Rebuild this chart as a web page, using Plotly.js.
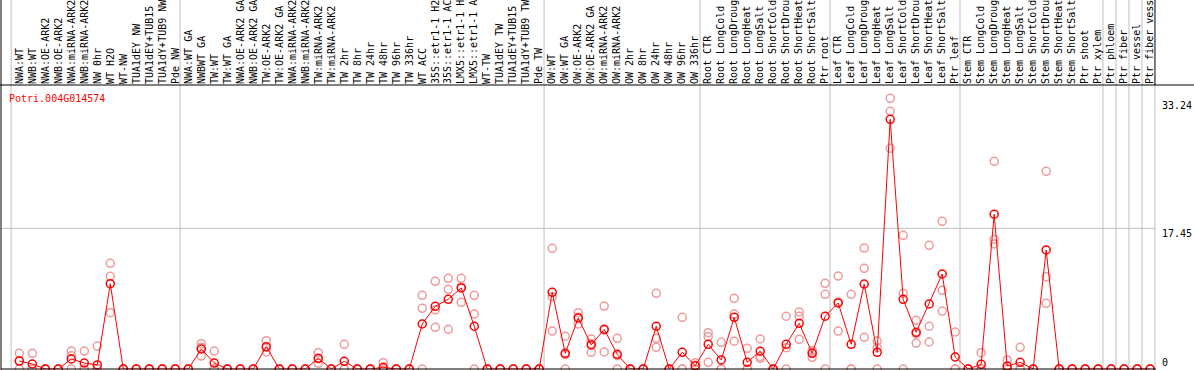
<!DOCTYPE html>
<html>
<head>
<meta charset="utf-8">
<script src="https://cdn.plot.ly/plotly-3.0.1.min.js"></script>
<style>
  html, body { margin: 0; padding: 0; background: #ffffff; }
  #chart { width: 1194px; height: 370px; }
</style>
</head>
<body>
<div id="chart"></div>
<script>
// ---------- data ----------
const geneId = "Potri.004G014574";

const categories = [
  "NWA:WT","NWB:WT","NWA:OE-ARK2","NWB:OE-ARK2","NWA:miRNA-ARK2","NWB:miRNA-ARK2","NW 0hr","WT H2O","WT-NW","TUA1dEY NW","TUA1dEY+TUB15","TUA1dY+TUB9 NW","Pde NW",
  "NWA:WT GA","NWBWT GA","TW:WT","TW:WT GA","NWA:OE-ARK2 GA","NWB:OE-ARK2 GA","TW:OE-ARK2","TW:OE-ARK2 GA","NWA:miRNA-ARK2","NWB:miRNA-ARK2","TW:miRNA-ARK2","TW:miRNA-ARK2","TW 2hr","TW 8hr","TW 24hr","TW 48hr","TW 96hr","TW 336hr","WT ACC","35S::etr1-1 H2","35S::etr1-1 AC","LMX5::etr1-1 H","LMX5::etr1-1 A","WT-TW","TUA1dEY TW","TUA1dEY+TUB15","TUA1dY+TUB9 TW","Pde TW",
  "OW:WT","OW:WT GA","OW:OE-ARK2","OW:OE-ARK2 GA","OW:miRNA-ARK2","OW:miRNA-ARK2","OW 2hr","OW 8hr","OW 24hr","OW 48hr","OW 96hr","OW 336hr",
  "Root CTR","Root LongCold","Root LongDroug","Root LongHeat","Root LongSalt","Root ShortCold","Root ShortDrou","Root ShortHeat","Root ShortSalt","Ptr root",
  "Leaf CTR","Leaf LongCold","Leaf LongDroug","Leaf LongHeat","Leaf LongSalt","Leaf ShortCold","Leaf ShortDrou","Leaf ShortHeat","Leaf ShortSalt","Ptr leaf",
  "Stem CTR","Stem LongCold","Stem LongDroug","Stem LongHeat","Stem LongSalt","Stem ShortCold","Stem ShortDrou","Stem ShortHeat","Stem ShortSalt","Ptr shoot","Ptr xylem",
  "Ptr phloem","Ptr fiber","Ptr vessel","Ptr fiber vess"
];

// number of samples in each labelled block (separated by grey lines)
const groupSizes = [13, 28, 12, 10, 10, 11, 1, 1, 1, 1];

const meanValues = [
  0.99, 0.62, 0, 0, 1.24, 0.74, 0.50, 10.58, 0, 0, 0, 0, 0,
  0, 2.48, 0.74, 0, 0, 0, 2.77, 0, 0, 0, 1.33, 0, 0.95, 0, 0, 0.21, 0, 0, 5.58, 7.78, 8.64, 10.05, 5.30, 0, 0, 0, 0, 0,
  9.51, 1.95, 6.33, 2.98, 4.92, 1.82, 0, 0, 5.30, 0, 2.07, 0.41,
  3.06, 1.12, 6.41, 0.83, 2.20, 0, 3.06, 5.67, 1.95, 6.54,
  8.19, 3.06, 10.54, 2.07, 30.97, 8.64, 4.55, 8.06, 11.78, 1.49,
  0, 0.58, 19.19, 0.37, 0.83, 0, 14.76, 0, 0, 0, 0,
  0, 0, 0, 0
];

const replicateValues = [
  [1.95,1.0,0],[1.95,0,0],[0,0,0],[0,0,0],[2.23,1.65,0],[2.23,0,0],[2.85,0,0],[13.1,11.5,6.98],[0,0,0],[0,0,0],[0,0,0],[0,0,0],[0,0,0],
  [0,0,0],[3.14,2.69,1.61],[2.23,0,0],[0,0,0],[0,0,0],[0,0,0],[3.51,2.69,2.11],[0,0,0],[0,0,0],[0,0,0],[2.02,1.26,0.71],[0,0,0],[3.06,0,0],[0,0,0],[0,0,0],[0.78,0,0],[0,0,0],[0,0,0],[9.14,7.53,0],[10.88,7.32,5.17],[11.25,9.88,4.92],[11.25,10.2,8.27],[9.14,6.82,0],[0,0,0],[0,0,0],[0,0,0],[0,0,0],[0,0,0],
  [14.97,8.97,4.71],[4.06,1.79,0],[6.98,6.43,5.58],[3.72,3.15,2.07],[7.81,4.85,2.11],[3.81,1.65,0],[0,0,0],[0,0,0],[9.39,3.81,2.69],[0,0,0],[6.41,0,0],[0.78,0.45,0],
  [4.5,4.01,0.83],[3.31,0,0],[8.77,6.82,3.44],[2.57,0,0],[3.72,1.55,1.33],[0,0,0],[6.54,2.64,0],[7.07,6.54,3.68],[2.3,2.07,1.45],[10.63,9.26,0],
  [11.53,8.3,4.71],[9.26,0,0],[15.0,12.49,3.93],[3.47,2.64,0],[33.57,31.96,27.37],[16.58,9.39,0],[6.04,4.4,3.22],[15.34,5.3,3.35],[18.32,9.76,7.19],[4.59,0,0],
  [0,0,0],[2.02,0,0],[25.76,16.09,15.5],[1.12,0,0],[2.69,0,0],[0,0,0],[24.52,11.45,8.15],[0,0,0],[0,0,0],[0,0,0],[0,0,0],
  [0,0,0],[0,0,0],[0,0,0],[0,0]
];

const yTickVals = [0, 17.45, 33.24];
const yTickText = ["0", "17.45", "33.24"];

// ---------- build ----------
const idx = categories.map((c, i) => i);
const repX = [], repY = [];
replicateValues.forEach((reps, i) => reps.forEach(v => { repX.push(i); repY.push(v); }));

const MONO = "DejaVu Sans Mono, Liberation Mono, monospace";
const GRID = "#c0c0c0";
const Y_MAX = 35.22;
const PLOT_H = 284;
// keep the bottom ("0") label inside the frame, as the original renderer does
const minLabelVal = Y_MAX * 12 / PLOT_H;
const yLabelPos = yTickVals.map(v => Math.max(v, minLabelVal));

// separator positions derived from group sizes
const breaks = [];
let acc = 0;
breaks.push(acc - 0.63);
groupSizes.forEach(n => { acc += n; breaks.push(acc - 0.63); });

const shapes = [];
// horizontal grid line at middle tick
shapes.push({type:"line", xref:"paper", yref:"y", x0:0, x1:1, y0:yTickVals[1], y1:yTickVals[1],
  line:{color:GRID, width:1}, layer:"below"});
breaks.forEach((b, k) => {
  shapes.push({type:"line", xref:"x", yref:"paper", x0:b, x1:b, y0:0, y1:(k === breaks.length-1 ? 1 : 1.31),
    line:{color:GRID, width:1}, layer:"below"});
});
// frame lines
shapes.push({type:"line", xref:"paper", yref:"paper", x0:-0.01, x1:1.05, y0:1, y1:1, line:{color:"#000", width:1}});
shapes.push({type:"line", xref:"paper", yref:"paper", x0:0, x1:0, y0:-0.01, y1:1.31, line:{color:"#000", width:1}});
shapes.push({type:"line", xref:"paper", yref:"paper", x0:0, x1:1, y0:0, y1:0, line:{color:"#000", width:1}});
shapes.push({type:"line", xref:"x", yref:"paper", x0:breaks[breaks.length-1], x1:breaks[breaks.length-1], y0:1, y1:1.31, line:{color:"#000", width:1}});

const traces = [
  {
    x: repX, y: repY, type: "scatter", mode: "markers", cliponaxis: false,
    marker: {symbol: "circle-open", size: 8, color: "#ee9a9a", line: {width: 1.5, color: "#ee9a9a"}},
    hoverinfo: "skip", showlegend: false
  },
  {
    x: idx, y: meanValues, type: "scatter", mode: "lines+markers", cliponaxis: false,
    line: {color: "#ff0000", width: 1},
    marker: {symbol: "circle-open", size: 8, color: "#ff0000", line: {width: 1.5, color: "#ff0000"}},
    showlegend: false
  }
];

const layout = {
  width: 1194, height: 370,
  margin: {l: 1, r: 38, t: 85, b: 1, pad: 0},
  paper_bgcolor: "#ffffff", plot_bgcolor: "rgba(0,0,0,0)",
  showlegend: false,
  xaxis: {
    range: [-1.408, 87.45], side: "top", tickmode: "array", tickvals: idx, ticktext: categories,
    tickangle: -90, tickfont: {family: MONO, size: 10, color: "#000"},
    showgrid: false, zeroline: false, showline: false, ticks: "", automargin: false, fixedrange: true
  },
  yaxis: {
    range: [0, Y_MAX], side: "right", tickmode: "array", tickvals: yLabelPos, ticktext: yTickText,
    tickfont: {family: MONO, size: 10, color: "#000"}, ticklabelshift: 5, ticklabelstandoff: 5,
    showgrid: false, zeroline: false, showline: false, ticks: "", automargin: false, fixedrange: true
  },
  shapes: shapes,
  annotations: [{
    text: geneId, xref: "paper", yref: "paper", x: 0.0048, y: 0.978, xanchor: "left", yanchor: "top",
    showarrow: false, font: {family: MONO, size: 10, color: "#ff0000"}
  }]
};

Plotly.newPlot("chart", traces, layout, {displayModeBar: false, staticPlot: true});
</script>
</body>
</html>
